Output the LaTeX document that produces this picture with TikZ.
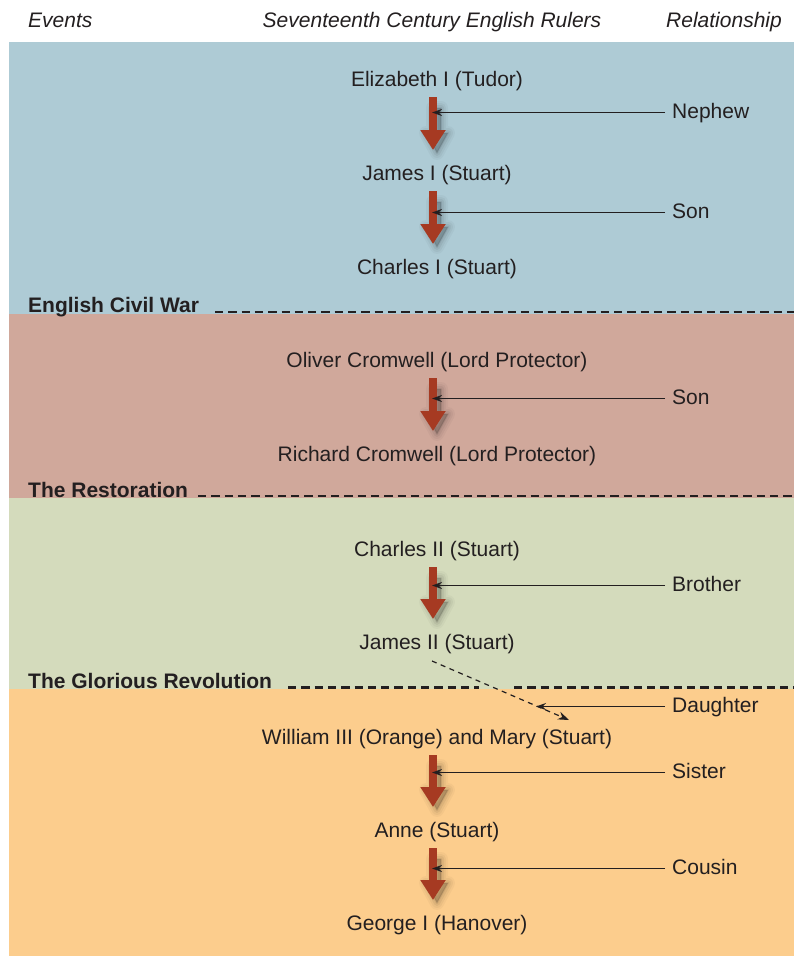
\documentclass[tikz,border=0pt]{standalone}
\usepackage{fontspec}
\setmainfont{Liberation Sans}
\usetikzlibrary{arrows.meta,calc}
\definecolor{bandA}{HTML}{AECBD5}
\definecolor{bandB}{HTML}{D0A89B}
\definecolor{bandC}{HTML}{D4DBBC}
\definecolor{bandD}{HTML}{FCCD8D}
\definecolor{arrowred}{HTML}{A63A22}
\definecolor{ink}{HTML}{231F20}
\tikzset{
  ruler/.style={font=\fontsize{21}{24}\selectfont, text=ink, inner sep=0pt, anchor=base},
  rellabel/.style={font=\fontsize{21}{24}\selectfont, text=ink, inner sep=0pt, anchor=base west},
  header/.style={font=\fontsize{21}{24}\selectfont\itshape, text=ink, inner sep=0pt},
  eventlabel/.style={font=\fontsize{21}{24}\selectfont\bfseries, text=ink, inner sep=0pt, anchor=base west},
  succession/.style={line width=8.5pt, draw=arrowred, -{Triangle[width=24pt,length=20pt]}, shorten <=11pt, shorten >=30pt},
  relline/.style={line width=1.9pt, draw=ink, -{Stealth[length=10pt,width=7pt]}},
  divider/.style={line width=2.5pt, draw=ink, dash pattern=on 8.3pt off 5pt},
  dashlink/.style={line width=1.2pt, draw=ink, dash pattern=on 5pt off 4.5pt, -{Stealth[length=11pt,width=8pt]}}
}
\newcommand{\arrowblur}[2]{%
  \foreach \w/\o in {14/0.03, 10/0.04, 6/0.055, 2/0.07}{%
    \path let \p1=(#1.base), \p2=(#2.base),
      \n1={\x1}, \n2={\y1-22pt}, \n3={\y2+27pt}, \n4={\y2+47pt} in
      [fill=black, draw=black, line width=\w pt, line join=round, opacity=\o]
      (\n1-4pt,\n2) -- (\n1+4pt,\n2) -- (\n1+4pt,\n4) -- (\n1+11pt,\n4)
      -- (\n1,\n3) -- (\n1-11pt,\n4) -- (\n1-4pt,\n4) -- cycle;
  }%
}
\begin{document}
\begin{tikzpicture}[x=1pt,y=-1pt]
\useasboundingbox (0,0) rectangle (794,956);
% bands
\fill[bandA] (9,42) rectangle (794,313.5);
\fill[bandB] (9,313.5) rectangle (794,498);
\fill[bandC] (9,498) rectangle (794,689);
\fill[bandD] (9,689) rectangle (794,956);
% headers
\node[header, anchor=base west] (hEvents) at (28,27) {Events};
\node[header, anchor=base] (hRulers) at (432,27) {Seventeenth Century English Rulers};
\node[header, anchor=base east] (hRel) at (782,27) {Relationship};
% event dividers
\node[eventlabel] (ecw) at (28,312.5) {English Civil War};
\node[eventlabel] (rest) at (28,497) {The Restoration};
\node[eventlabel] (glor) at (28,688) {The Glorious Revolution};
\draw[divider] (215,311.8) -- (794,311.8);
\draw[divider] (198,496) -- (794,496);
\draw[divider] (288,687.5) -- (479,687.5);
\draw[divider] (514,687.5) -- (794,687.5);
% rulers
\node[ruler] (eliz) at (437,86) {Elizabeth I (Tudor)};
\node[ruler] (james) at (437,180) {James I (Stuart)};
\node[ruler] (charles) at (437,274) {Charles I (Stuart)};
\node[ruler] (oliver) at (437,367) {Oliver Cromwell (Lord Protector)};
\node[ruler] (richard) at (437,461) {Richard Cromwell (Lord Protector)};
\node[ruler] (charles2) at (437,556) {Charles II (Stuart)};
\node[ruler] (james2) at (437,649) {James II (Stuart)};
\node[ruler] (wm) at (437,744) {William III (Orange) and Mary (Stuart)};
\node[ruler] (anne) at (437,837) {Anne (Stuart)};
\node[ruler] (george) at (437,930) {George I (Hanover)};
% succession arrows with soft shadow
\foreach \a/\b in {eliz/james, james/charles, oliver/richard, charles2/james2, wm/anne, anne/george}{
  \arrowblur{\a}{\b}
  \draw[succession] ([xshift=-4pt]\a.base) -- ([xshift=-4pt]\b.base);
}
% relationship labels
\coordinate (tipx) at (439,0);
\node[rellabel] (r1) at (672,118) {Nephew};
\node[rellabel] (r2) at (672,218) {Son};
\node[rellabel] (r3) at (672,404) {Son};
\node[rellabel] (r4) at (672,591) {Brother};
\node[rellabel] (r5) at (672,712) {Daughter};
\node[rellabel] (r6) at (672,778) {Sister};
\node[rellabel] (r7) at (672,874) {Cousin};
\foreach \r in {r1,r2,r3,r4,r6,r7}{
  \draw[relline] ([xshift=-7pt,yshift=5.5pt]\r.base west) -- ([xshift=-7pt,yshift=5.5pt]\r.base west -| tipx);
}
% William & Mary: dashed link from James II, and Daughter
\coordinate (dstart) at (432,661);
\coordinate (dend) at (569,720);
\draw[dashlink] (dstart) -- (dend);
\coordinate (daughtertip) at (543,0);
\draw[relline] ([xshift=-7pt,yshift=5.5pt]r5.base west) -- ([xshift=-7pt,yshift=5.5pt]r5.base west -| daughtertip);
\end{tikzpicture}
\end{document}
